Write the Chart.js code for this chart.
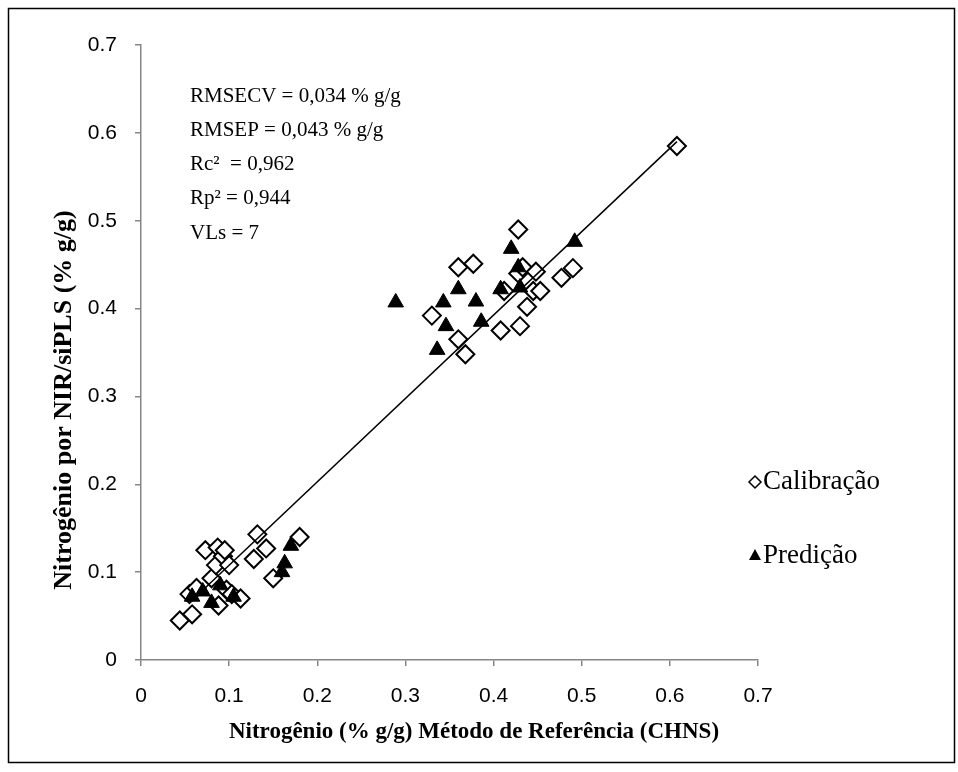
<!DOCTYPE html>
<html>
<head>
<meta charset="utf-8">
<title>Nitrogênio NIR/siPLS</title>
<script src="https://cdn.jsdelivr.net/npm/chart.js@4.4.0/dist/chart.umd.min.js"></script>
<style>
  body { margin: 0; background: #fff; }
</style>
</head>
<body>
<canvas id="nChart" width="958" height="772"></canvas>
<script>
// calibration samples (reference vs predicted, % g/g)
let calX = [0.044, 0.058, 0.055, 0.063, 0.073, 0.080, 0.085, 0.087, 0.088, 0.093,
            0.095, 0.097, 0.100, 0.103, 0.113, 0.128, 0.132, 0.142, 0.150, 0.180,
            0.330, 0.360, 0.360, 0.368, 0.377, 0.408, 0.412, 0.428, 0.430, 0.428,
            0.433, 0.438, 0.445, 0.448, 0.453, 0.477, 0.490, 0.608];
let calY = [0.045, 0.052, 0.075, 0.082, 0.125, 0.093, 0.108, 0.128, 0.062, 0.118,
            0.125, 0.080, 0.108, 0.075, 0.070, 0.115, 0.143, 0.127, 0.093, 0.140,
            0.392, 0.447, 0.365, 0.348, 0.451, 0.375, 0.420, 0.490, 0.380, 0.440,
            0.447, 0.402, 0.420, 0.442, 0.420, 0.435, 0.446, 0.585];

// prediction samples
let predX = [0.058, 0.070, 0.080, 0.090, 0.105, 0.160, 0.163, 0.170,
             0.289, 0.336, 0.343, 0.346, 0.360, 0.380, 0.386, 0.408,
             0.420, 0.428, 0.430, 0.492];
let predY = [0.072, 0.078, 0.065, 0.085, 0.072, 0.100, 0.110, 0.130,
             0.407, 0.353, 0.407, 0.380, 0.422, 0.408, 0.385, 0.422,
             0.468, 0.447, 0.424, 0.476];

// fitted line end points
let lineX = [0.058, 0.608];
let lineY = [0.068, 0.590];

let axisTicks = [0, 0.1, 0.2, 0.3, 0.4, 0.5, 0.6, 0.7];

let statLines = [
    'RMSECV = 0,034 % g/g',
    'RMSEP = 0,043 % g/g',
    'Rc\u00B2  = 0,962',
    'Rp\u00B2 = 0,944',
    'VLs = 7'
];

function toPoints(xs, ys) {
    return xs.map((x, i) => ({ x: x, y: ys[i] }));
}

const serif = "'Liberation Serif', 'Times New Roman', serif";
const sans = "'Liberation Sans', Arial, sans-serif";
const axisGray = '#868686';

// border, titles, stats box and legend
const decorations = {
    id: 'decorations',
    afterDraw(chart) {
        let ctx = chart.ctx;
        ctx.save();

        ctx.strokeStyle = '#000';
        ctx.lineWidth = 1.5;
        ctx.strokeRect(8.5, 8.5, 946, 754);

        ctx.fillStyle = '#000';
        ctx.textAlign = 'center';
        ctx.textBaseline = 'middle';
        ctx.font = 'bold 23px ' + serif;
        ctx.fillText('Nitrogênio (% g/g) Método de Referência (CHNS)', 474, 732);

        ctx.save();
        ctx.translate(64, 400);
        ctx.rotate(-Math.PI / 2);
        ctx.font = 'bold 26px ' + serif;
        ctx.fillText('Nitrogênio por NIR/siPLS (% g/g)', 0, 0);
        ctx.restore();

        ctx.font = '21px ' + serif;
        ctx.textAlign = 'left';
        ctx.textBaseline = 'middle';
        statLines.forEach((t, i) => {
            ctx.fillText(t, 190, 96 + i * 34.3);
        });

        // legend
        ctx.font = '27px ' + serif;
        ctx.fillText('Calibração', 763, 482);
        ctx.fillText('Predição', 763, 556);

        ctx.lineWidth = 1.5;
        ctx.strokeStyle = '#000';
        ctx.fillStyle = '#fff';
        ctx.beginPath();
        ctx.moveTo(755, 476);
        ctx.lineTo(761, 482);
        ctx.lineTo(755, 488);
        ctx.lineTo(749, 482);
        ctx.closePath();
        ctx.fill();
        ctx.stroke();

        ctx.fillStyle = '#000';
        ctx.beginPath();
        ctx.moveTo(755, 549);
        ctx.lineTo(761, 560);
        ctx.lineTo(749, 560);
        ctx.closePath();
        ctx.fill();

        ctx.restore();
    }
};

let ctx = document.querySelector('#nChart').getContext('2d');

let nChart = new Chart(ctx, {
    type: 'scatter',
    data: {
        datasets: [
            {
                label: 'Ajuste',
                data: toPoints(lineX, lineY),
                showLine: true,
                pointRadius: 0,
                borderColor: '#000',
                borderWidth: 1.5,
                order: 0
            },
            {
                label: 'Predição',
                data: toPoints(predX, predY),
                pointStyle: 'triangle',
                pointRadius: 9,
                backgroundColor: '#000',
                borderColor: '#000',
                borderWidth: 1,
                order: 1
            },
            {
                label: 'Calibração',
                data: toPoints(calX, calY),
                pointStyle: 'rectRot',
                pointRadius: 9,
                backgroundColor: '#fff',
                borderColor: '#000',
                borderWidth: 2,
                order: 2
            }
        ]
    },
    options: {
        responsive: false,
        animation: false,
        layout: {
            padding: { top: 45, right: 200, left: 0, bottom: 0 }
        },
        plugins: {
            legend: { display: false },
            tooltip: { enabled: false }
        },
        scales: {
            x: {
                type: 'linear',
                min: 0,
                max: 0.7,
                afterBuildTicks: (scale) => {
                    scale.ticks = axisTicks.map(v => ({ value: v }));
                },
                afterFit: (scale) => { scale.height = 112; },
                ticks: {
                    color: '#000',
                    padding: 18,
                    font: { family: sans, size: 21 },
                    callback: (v) => v === 0 ? '0' : v.toFixed(1)
                },
                grid: {
                    drawOnChartArea: false,
                    tickLength: 6,
                    color: axisGray,
                    lineWidth: 1.5
                },
                border: { color: axisGray, width: 1.5 }
            },
            y: {
                type: 'linear',
                min: 0,
                max: 0.7,
                afterBuildTicks: (scale) => {
                    scale.ticks = axisTicks.map(v => ({ value: v }));
                },
                afterFit: (scale) => { scale.width = 141; },
                ticks: {
                    color: '#000',
                    padding: 18,
                    font: { family: sans, size: 21 },
                    callback: (v) => v === 0 ? '0' : v.toFixed(1)
                },
                grid: {
                    drawOnChartArea: false,
                    tickLength: 6,
                    color: axisGray,
                    lineWidth: 1.5
                },
                border: { color: axisGray, width: 1.5 }
            }
        }
    },
    plugins: [decorations]
});
</script>
</body>
</html>
